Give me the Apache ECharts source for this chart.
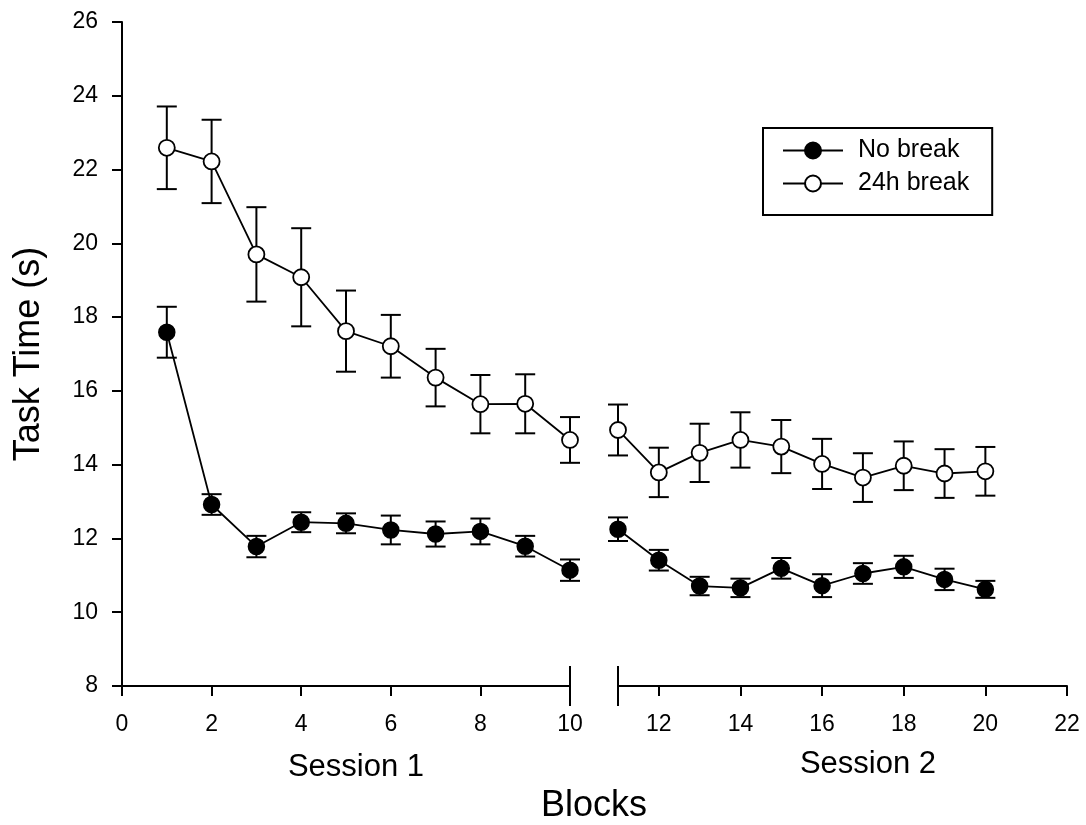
<!DOCTYPE html>
<html>
<head>
<meta charset="utf-8">
<script src="https://cdn.jsdelivr.net/npm/echarts@6/dist/echarts.min.js"></script>
<style>
html,body{margin:0;padding:0;background:#fff;}
#chart{width:1086px;height:825px;}
</style>
</head>
<body>
<div id="chart"></div>
<script>
// ---- data ----
var blocksSession1 = [1, 2, 3, 4, 5, 6, 7, 8, 9, 10];
var blocksSession2 = [11, 12, 13, 14, 15, 16, 17, 18, 19, 20];

var noBreakS1   = [17.59, 12.92, 11.78, 12.44, 12.41, 12.23, 12.12, 12.19, 11.79, 11.14];
var noBreakSE1  = [0.69, 0.28, 0.29, 0.27, 0.27, 0.39, 0.34, 0.35, 0.28, 0.29];
var noBreakS2   = [12.25, 11.41, 10.71, 10.66, 11.19, 10.72, 11.05, 11.23, 10.89, 10.62];
var noBreakSE2  = [0.32, 0.28, 0.25, 0.25, 0.28, 0.31, 0.28, 0.30, 0.29, 0.23];

var breakS1     = [22.59, 22.22, 19.70, 19.08, 17.62, 17.21, 16.36, 15.64, 15.65, 14.67];
var breakSE1    = [1.12, 1.13, 1.28, 1.33, 1.10, 0.85, 0.78, 0.79, 0.80, 0.62];
var breakS2     = [14.94, 13.79, 14.32, 14.67, 14.49, 14.02, 13.65, 13.97, 13.76, 13.82];
var breakSE2    = [0.69, 0.67, 0.79, 0.75, 0.72, 0.68, 0.66, 0.66, 0.66, 0.66];

var yTicks = [8, 10, 12, 14, 16, 18, 20, 22, 24, 26];
var xTicksSession1 = [0, 2, 4, 6, 8, 10];
var xTicksSession2 = [12, 14, 16, 18, 20, 22];
var axisBreaks1 = [10];
var axisBreaks2 = [11];

var seriesNames = ['No break', '24h break'];
var sessionLabels = ['Session 1', 'Session 2'];
var xTitle = 'Blocks';
var yTitle = 'Task Time (s)';

// ---- helpers ----
var FONT = 'Liberation Sans, Arial, Helvetica, sans-serif';
function pairs(xs, ys) { return xs.map(function (x, i) { return [x, ys[i]]; }); }
function bars(xs, ys, se) { return xs.map(function (x, i) { return [x, ys[i] - se[i], ys[i] + se[i]]; }); }

function errRender(params, api) {
  var x = api.value(0);
  var lo = api.coord([x, api.value(1)]);
  var hi = api.coord([x, api.value(2)]);
  var w = 10;
  var st = { stroke: '#000', lineWidth: 2 };
  return {
    type: 'group',
    children: [
      { type: 'line', shape: { x1: lo[0], y1: lo[1], x2: hi[0], y2: hi[1] }, style: st },
      { type: 'line', shape: { x1: lo[0] - w, y1: lo[1], x2: lo[0] + w, y2: lo[1] }, style: st },
      { type: 'line', shape: { x1: hi[0] - w, y1: hi[1], x2: hi[0] + w, y2: hi[1] }, style: st }
    ]
  };
}
function breakRender(params, api) {
  var p = api.coord([api.value(0), yTicks[0]]);
  return { type: 'line', shape: { x1: p[0], y1: p[1] - 20, x2: p[0], y2: p[1] + 20 }, style: { stroke: '#000', lineWidth: 2 } };
}

var filledStyle = { color: '#000', borderColor: '#000', borderWidth: 1.5 };
var openStyle = { color: '#fff', borderColor: '#000', borderWidth: 1.8 };

function lineSeries(name, gi, xs, ys, style) {
  return {
    name: name, type: 'line', xAxisIndex: gi, yAxisIndex: gi,
    data: pairs(xs, ys), symbol: 'circle', symbolSize: 16,
    lineStyle: { color: '#000', width: 1.8 }, itemStyle: style,
    z: 5, animation: false, emphasis: { disabled: true }
  };
}
function errSeries(gi, xs, ys, se) {
  return {
    name: 'err', type: 'custom', xAxisIndex: gi, yAxisIndex: gi,
    data: bars(xs, ys, se), renderItem: errRender, z: 3, animation: false, silent: true
  };
}

var axisLineStyle = { color: '#000', width: 2 };
var tickLabel = { color: '#000', fontSize: 23, fontFamily: FONT };

var option = {
  backgroundColor: '#fff',
  animation: false,
  grid: [
    { left: 122, width: 448, top: 22, height: 664 },
    { left: 618, width: 449, top: 22, height: 664 }
  ],
  xAxis: [
    {
      type: 'value', gridIndex: 0, min: 0, max: 10, interval: 2,
      axisLine: { lineStyle: axisLineStyle, onZero: false },
      axisTick: { length: 10, lineStyle: axisLineStyle },
      axisLabel: Object.assign({ margin: 27 }, tickLabel),
      splitLine: { show: false }
    },
    {
      type: 'value', gridIndex: 1, min: 11, max: 22,
      axisLine: { lineStyle: axisLineStyle, onZero: false },
      axisTick: { length: 10, lineStyle: axisLineStyle, customValues: xTicksSession2 },
      axisLabel: Object.assign({ margin: 27, customValues: xTicksSession2 }, tickLabel),
      splitLine: { show: false }
    }
  ],
  yAxis: [
    {
      type: 'value', gridIndex: 0, min: yTicks[0], max: yTicks[yTicks.length - 1], interval: 2,
      axisLine: { show: true, lineStyle: axisLineStyle },
      axisTick: { show: true, length: 10, lineStyle: axisLineStyle },
      axisLabel: Object.assign({ margin: 24 }, tickLabel),
      splitLine: { show: false },
      name: yTitle, nameLocation: 'middle', nameRotate: 90, nameGap: 75,
      nameTextStyle: { color: '#000', fontSize: 36, fontFamily: FONT }
    },
    {
      type: 'value', gridIndex: 1, min: yTicks[0], max: yTicks[yTicks.length - 1], interval: 2,
      show: false
    }
  ],
  legend: {
    data: seriesNames,
    orient: 'vertical',
    left: 763, top: 128,
    padding: [10, 23, 19, 19],
    itemWidth: 60, itemHeight: 20, itemGap: 8,
    borderColor: '#000', borderWidth: 2,
    textStyle: { color: '#000', fontSize: 25, fontFamily: FONT, padding: [0, 0, 0, 10] },
    selectedMode: false
  },
  graphic: [
    { type: 'text', x: 356, y: 767, style: { text: sessionLabels[0], fontSize: 31, fontFamily: FONT, fill: '#000', textAlign: 'center', textVerticalAlign: 'middle' } },
    { type: 'text', x: 868, y: 764, style: { text: sessionLabels[1], fontSize: 31, fontFamily: FONT, fill: '#000', textAlign: 'center', textVerticalAlign: 'middle' } },
    { type: 'text', x: 594, y: 806, style: { text: xTitle, fontSize: 36, fontFamily: FONT, fill: '#000', textAlign: 'center', textVerticalAlign: 'middle' } }
  ],
  series: [
    errSeries(0, blocksSession1, noBreakS1, noBreakSE1),
    errSeries(0, blocksSession1, breakS1, breakSE1),
    errSeries(1, blocksSession2, noBreakS2, noBreakSE2),
    errSeries(1, blocksSession2, breakS2, breakSE2),
    lineSeries(seriesNames[0], 0, blocksSession1, noBreakS1, filledStyle),
    lineSeries(seriesNames[1], 0, blocksSession1, breakS1, openStyle),
    lineSeries(seriesNames[0], 1, blocksSession2, noBreakS2, filledStyle),
    lineSeries(seriesNames[1], 1, blocksSession2, breakS2, openStyle),
    { name: 'brk1', type: 'custom', xAxisIndex: 0, yAxisIndex: 0, data: axisBreaks1.map(function (v) { return [v]; }), renderItem: breakRender, z: 6, silent: true, clip: false },
    { name: 'brk2', type: 'custom', xAxisIndex: 1, yAxisIndex: 1, data: axisBreaks2.map(function (v) { return [v]; }), renderItem: breakRender, z: 6, silent: true, clip: false }
  ]
};

var chart = echarts.init(document.getElementById('chart'), null, { renderer: 'canvas' });
chart.setOption(option);
</script>
</body>
</html>
